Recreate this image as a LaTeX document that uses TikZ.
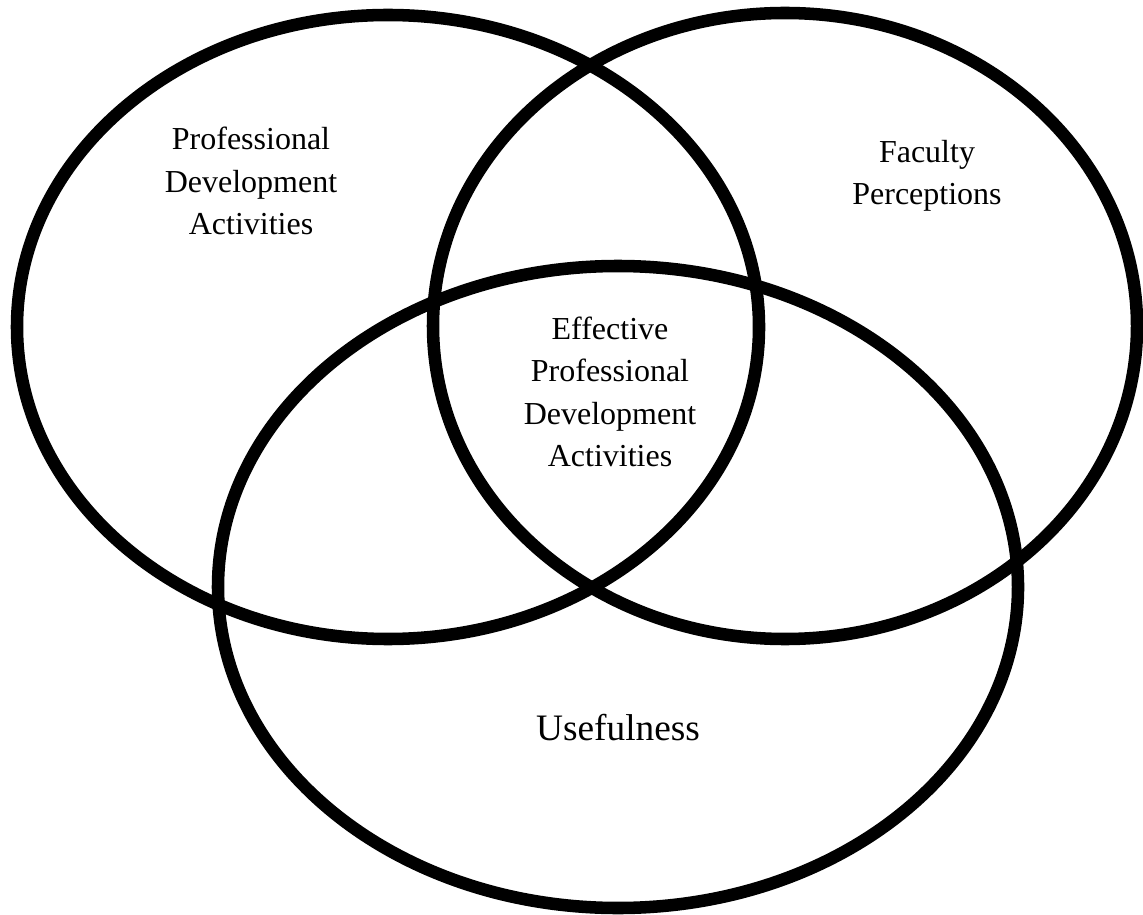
\documentclass[tikz,border=0pt]{standalone}
\usepackage{fontspec}
\setmainfont{Liberation Serif}
\usepackage{tikz}

\begin{document}
\begin{tikzpicture}[x=0.375pt, y=-0.375pt,
ring/.style={black, line width=4.7pt},
lbl/.style={align=center, inner sep=0pt, font=\fontsize{12}{15.9}\selectfont}]
\useasboundingbox (0,0) rectangle (1143,915);
\draw[ring] (388,327) ellipse [x radius=371, y radius=312];
\draw[ring] (785,326) ellipse [x radius=352, y radius=313];
\draw[ring] (618,587) ellipse [x radius=400, y radius=321];
 \node[lbl] (pda)  at (251,181) {Professional\\Development\\Activities};
 \node[lbl] (fac)  at (927,176) {Faculty\\Perceptions};
 \node[lbl] (epda) at (610,392) {Effective\\Professional\\Development\\Activities};
 \node[lbl, font=\fontsize{14}{17}\selectfont] (use) at (618,728) {Usefulness};
\end{tikzpicture}
\end{document}
